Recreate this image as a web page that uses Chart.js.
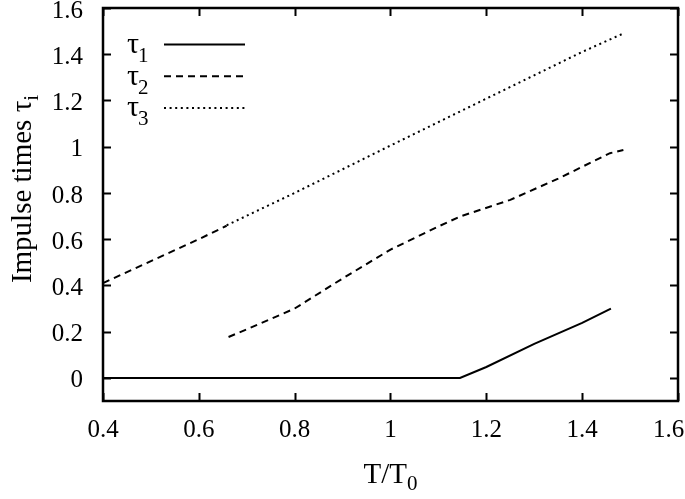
<!DOCTYPE html>
<html>
<head>
<meta charset="utf-8">
<script src="https://cdn.jsdelivr.net/npm/chart.js@4/dist/chart.umd.min.js"></script>
<style>
  html, body { margin: 0; padding: 0; background: #fff; }
  #wrap { width: 685px; height: 499px; }
</style>
</head>
<body>
<div id="wrap"><canvas id="c" width="685" height="499"></canvas></div>
<script>
// ---- data ----
const xTicks = [0.4, 0.6, 0.8, 1.0, 1.2, 1.4, 1.6];
const yTicks = [0, 0.2, 0.4, 0.6, 0.8, 1.0, 1.2, 1.4, 1.6];

const tau1X = [0.4, 1.145, 1.2, 1.3, 1.4, 1.46];
const tau1Y = [0, 0, 0.047, 0.147, 0.238, 0.30];

// tau2: first branch (0.4..0.658), gap, second branch (0.662..1.486)
const tau2X = [0.4, 0.5, 0.6, 0.658, 0.66, 0.662, 0.7, 0.8, 0.9, 1.0, 1.1, 1.145, 1.25, 1.35, 1.458, 1.486];
const tau2Y = [0.41, 0.505, 0.6, 0.658, null, 0.177, 0.21, 0.30, 0.43, 0.555, 0.655, 0.698, 0.77, 0.862, 0.972, 0.986];

const tau3X = [0.658, 0.8, 1.0, 1.2, 1.4, 1.486];
const tau3Y = [0.66, 0.80, 1.005, 1.208, 1.41, 1.49];

const legendNames = ['1', '2', '3'];   // subscripts of τ
const xTitle = ['T/T', '0'];
const yTitle = ['Impulse times τ', 'i'];

const FONT = '"Liberation Serif", "DejaVu Serif", serif';

function pts(xs, ys) { return xs.map((x, i) => ({ x: x, y: ys[i] })); }

const dashes = [[], [7, 5], [2, 3.6]];

const frame = {
  id: 'frame',
  afterDraw(chart) {
    const ctx = chart.ctx;
    const a = chart.chartArea;
    const xs = chart.scales.x, ys = chart.scales.y;
    ctx.save();
    ctx.strokeStyle = '#000';
    ctx.lineWidth = 2.5;
    ctx.setLineDash([]);
    ctx.strokeRect(a.left, a.top, a.right - a.left, a.bottom - a.top);
    ctx.lineWidth = 2;
    const tl = 8;
    ctx.beginPath();
    xTicks.forEach(v => {
      const px = Math.round(xs.getPixelForValue(v)) + 0.5;
      ctx.moveTo(px, a.bottom); ctx.lineTo(px, a.bottom - tl);
      ctx.moveTo(px, a.top); ctx.lineTo(px, a.top + tl);
    });
    yTicks.forEach(v => {
      const py = Math.round(ys.getPixelForValue(v)) + 0.5;
      ctx.moveTo(a.left, py); ctx.lineTo(a.left + tl, py);
      ctx.moveTo(a.right, py); ctx.lineTo(a.right - tl, py);
    });
    ctx.stroke();

    // legend
    ctx.fillStyle = '#000';
    ctx.textBaseline = 'alphabetic';
    chart.data.datasets.forEach((ds, i) => {
      const ly = a.top + 36 + i * 31.7;
      ctx.font = '30px ' + FONT;
      ctx.textAlign = 'left';
      const tx = a.left + 24;
      ctx.fillText('τ', tx, ly + 9);
      const w = ctx.measureText('τ').width;
      ctx.font = '21px ' + FONT;
      ctx.fillText(legendNames[i], tx + w - 1, ly + 18);
      ctx.beginPath();
      ctx.lineWidth = 2;
      ctx.setLineDash(dashes[i]);
      ctx.moveTo(a.left + 61, ly + 0.5);
      ctx.lineTo(a.left + 142, ly + 0.5);
      ctx.stroke();
    });
    ctx.setLineDash([]);

    // x title
    ctx.font = '29px ' + FONT;
    const w1 = ctx.measureText(xTitle[0]).width;
    ctx.font = '21px ' + FONT;
    const w2 = ctx.measureText(xTitle[1]).width;
    const cx = (a.left + a.right) / 2;
    const sx = cx - (w1 + w2) / 2;
    ctx.font = '29px ' + FONT;
    ctx.fillText(xTitle[0], sx, 483);
    ctx.font = '21px ' + FONT;
    ctx.fillText(xTitle[1], sx + w1, 490);

    // y title (rotated)
    ctx.save();
    ctx.translate(31, 189);
    ctx.rotate(-Math.PI / 2);
    ctx.font = '29px ' + FONT;
    const v1 = ctx.measureText(yTitle[0]).width;
    ctx.font = '21px ' + FONT;
    const v2 = ctx.measureText(yTitle[1]).width;
    const s0 = -(v1 + v2) / 2;
    ctx.font = '29px ' + FONT;
    ctx.fillText(yTitle[0], s0, 0);
    ctx.font = '21px ' + FONT;
    ctx.fillText(yTitle[1], s0 + v1, 7);
    ctx.restore();

    ctx.restore();
  }
};

new Chart(document.getElementById('c'), {
  type: 'line',
  data: {
    datasets: [
      { label: 'τ1', data: pts(tau1X, tau1Y), borderDash: dashes[0] },
      { label: 'τ2', data: pts(tau2X, tau2Y), borderDash: dashes[1] },
      { label: 'τ3', data: pts(tau3X, tau3Y), borderDash: dashes[2] }
    ].map(d => Object.assign(d, {
      borderColor: '#000', backgroundColor: '#000', borderWidth: 2,
      pointRadius: 0, tension: 0, fill: false, spanGaps: false
    }))
  },
  options: {
    responsive: false,
    animation: false,
    devicePixelRatio: 1,
    layout: { padding: { top: 8, right: 7, left: 0, bottom: 0 } },
    plugins: { legend: { display: false }, tooltip: { enabled: false } },
    scales: {
      x: {
        type: 'linear', min: 0.4, max: 1.6,
        afterBuildTicks: s => { s.ticks = xTicks.map(v => ({ value: v })); },
        afterFit: s => { s.height = 98; s.paddingLeft = 0; s.paddingRight = 0; },
        grid: { display: false }, border: { display: false },
        ticks: {
          color: '#000', padding: 6, maxRotation: 0,
          font: { family: FONT, size: 25 },
          // last label is pushed left to stay inside the page, as in the reference
          callback: (v, i, arr) => String(Number(v.toFixed(2))) + (i === arr.length - 1 ? '\u00a0\u00a0\u00a0' : '')
        }
      },
      y: {
        type: 'linear', min: -0.1, max: 1.6,
        afterBuildTicks: s => { s.ticks = yTicks.map(v => ({ value: v })); },
        afterFit: s => { s.width = 103; s.paddingTop = 0; s.paddingBottom = 0; },
        grid: { display: false }, border: { display: false },
        ticks: {
          color: '#000', padding: 12, labelOffset: 3,
          font: { family: FONT, size: 25 },
          callback: v => String(Number(v.toFixed(2)))
        }
      }
    }
  },
  plugins: [frame]
});
</script>
</body>
</html>
